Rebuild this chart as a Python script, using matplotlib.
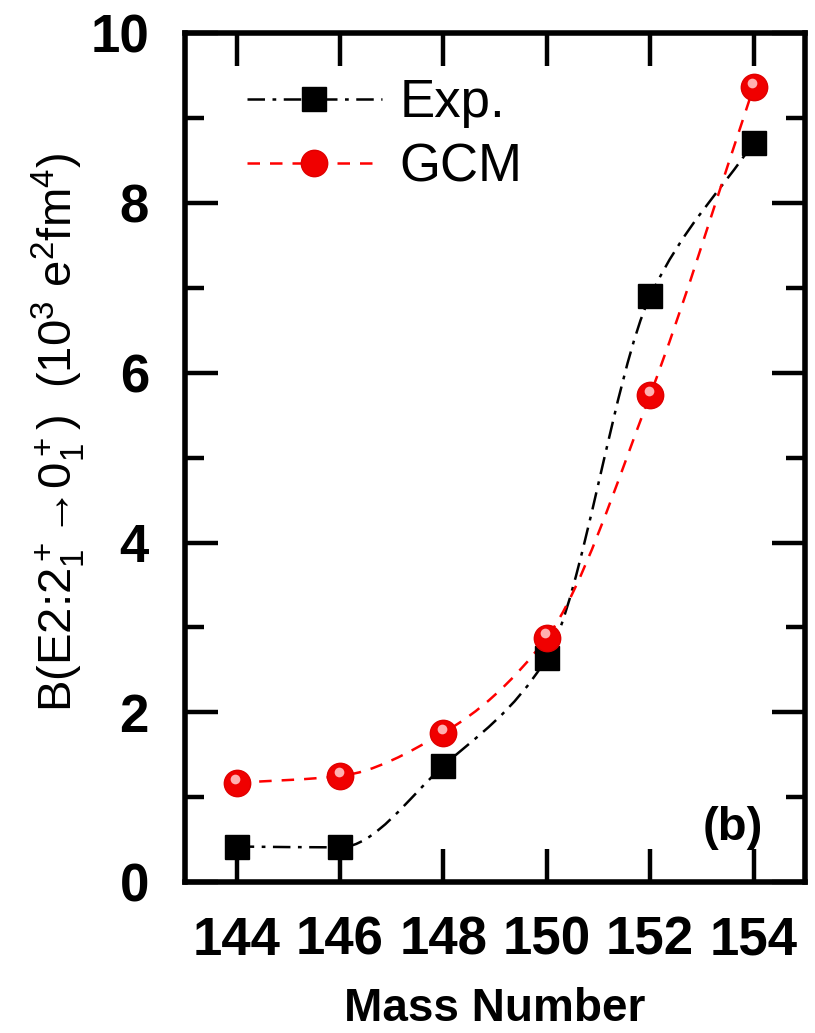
import matplotlib
matplotlib.use("Agg")
import matplotlib.pyplot as plt
import matplotlib.transforms as mtransforms
from matplotlib.path import Path
from matplotlib.patches import PathPatch
from matplotlib.lines import Line2D
import numpy as np

mass = [144, 146, 148, 150, 152, 154]
exp_be2 = [0.42, 0.41, 1.37, 2.64, 6.90, 8.71]
gcm_be2 = [1.17, 1.25, 1.76, 2.88, 5.74, 9.36]

plt.rcParams['font.family'] = ['Liberation Sans', 'DejaVu Sans']
plt.rcParams['mathtext.fontset'] = 'custom'
plt.rcParams['mathtext.rm'] = 'Liberation Sans'
plt.rcParams['mathtext.it'] = 'Liberation Sans'
plt.rcParams['mathtext.bf'] = 'Liberation Sans:bold'


def smooth_path(x, y):
    # monotone (pchip-like) cubic bezier through the points
    x = np.asarray(x, float)
    y = np.asarray(y, float)
    h = np.diff(x)
    d = np.diff(y) / h
    m = np.zeros_like(y)
    m[0], m[-1] = d[0], d[-1]
    for i in range(1, len(y) - 1):
        if d[i - 1] * d[i] > 0:
            m[i] = 2.0 / (1.0 / d[i - 1] + 1.0 / d[i])
    verts = [(x[0], y[0])]
    codes = [Path.MOVETO]
    for i in range(len(x) - 1):
        verts += [(x[i] + h[i] / 3, y[i] + m[i] * h[i] / 3),
                  (x[i + 1] - h[i] / 3, y[i + 1] - m[i + 1] * h[i] / 3),
                  (x[i + 1], y[i + 1])]
        codes += [Path.CURVE4] * 3
    return Path(verts, codes)


exp_ls = (0, (7, 3, 1.5, 3))
gcm_ls = (0, (5, 4))

fig = plt.figure(figsize=(8.15, 10.33), dpi=100)
ax = fig.add_axes([0.227, 0.146, 0.761, 0.822])

ax.add_patch(PathPatch(smooth_path(mass, exp_be2), fill=False, color='black',
                       lw=1.8, linestyle=exp_ls))
ax.add_patch(PathPatch(smooth_path(mass, gcm_be2), fill=False, color='red',
                       lw=1.8, linestyle=gcm_ls))

ax.plot(mass, exp_be2, 's', color='black', ms=17, zorder=5)
ax.plot(mass, gcm_be2, 'o', color='#f00000', mec='#e00000', ms=19, zorder=5)
hl = ax.transData + mtransforms.ScaledTranslation(-1.0 / 72, 3.0 / 72, fig.dpi_scale_trans)
ax.plot(mass, gcm_be2, 'o', color='#ffb0b0', mec='none', ms=7, zorder=6,
        transform=hl)

ax.set_xlim(143, 155)
ax.set_ylim(0, 10)
ax.set_xticks(mass)
ax.set_yticks([0, 2, 4, 6, 8, 10])
ax.set_yticks([1, 3, 5, 7, 9], minor=True)

ax.tick_params(which='both', direction='in', top=True, right=True, width=3.2)
ax.tick_params(which='major', length=24)
ax.tick_params(which='minor', length=14)
ax.tick_params(axis='x', pad=24)
ax.tick_params(axis='y', pad=26)
for s in ax.spines.values():
    s.set_linewidth(4)

for lab in ax.get_xticklabels() + ax.get_yticklabels():
    lab.set_fontsize(38)
    lab.set_fontweight('bold')

ax.set_xlabel('Mass Number', fontsize=33, fontweight='bold')
ax.xaxis.label.set_va('baseline')
ax.xaxis.set_label_coords(0.5, -0.164)
ax.set_ylabel('B(E2:2$_1^+$\u21920$_1^+$)  (10$^3$ e$^2$fm$^4$)', fontsize=34)
ax.yaxis.set_label_coords(-0.158, 0.53)

ax.text(0.932, 0.064, '(b)', transform=ax.transAxes, fontsize=34,
        fontweight='bold', ha='right', va='center')

handles = [
    Line2D([], [], color='black', lw=1.8, linestyle=exp_ls,
           marker='s', ms=17),
    Line2D([], [], color='red', lw=1.8, linestyle=gcm_ls,
           marker='o', ms=19, mfc='#f00000', mec='#e00000'),
]
ax.legend(handles, ['Exp.', 'GCM'], loc='upper left', frameon=False,
          fontsize=38, handlelength=2.55, bbox_to_anchor=(0.1, 0.947),
          borderaxespad=0, borderpad=0, labelspacing=0.27, handletextpad=0.34)

fig.savefig('out.png', dpi=100)
